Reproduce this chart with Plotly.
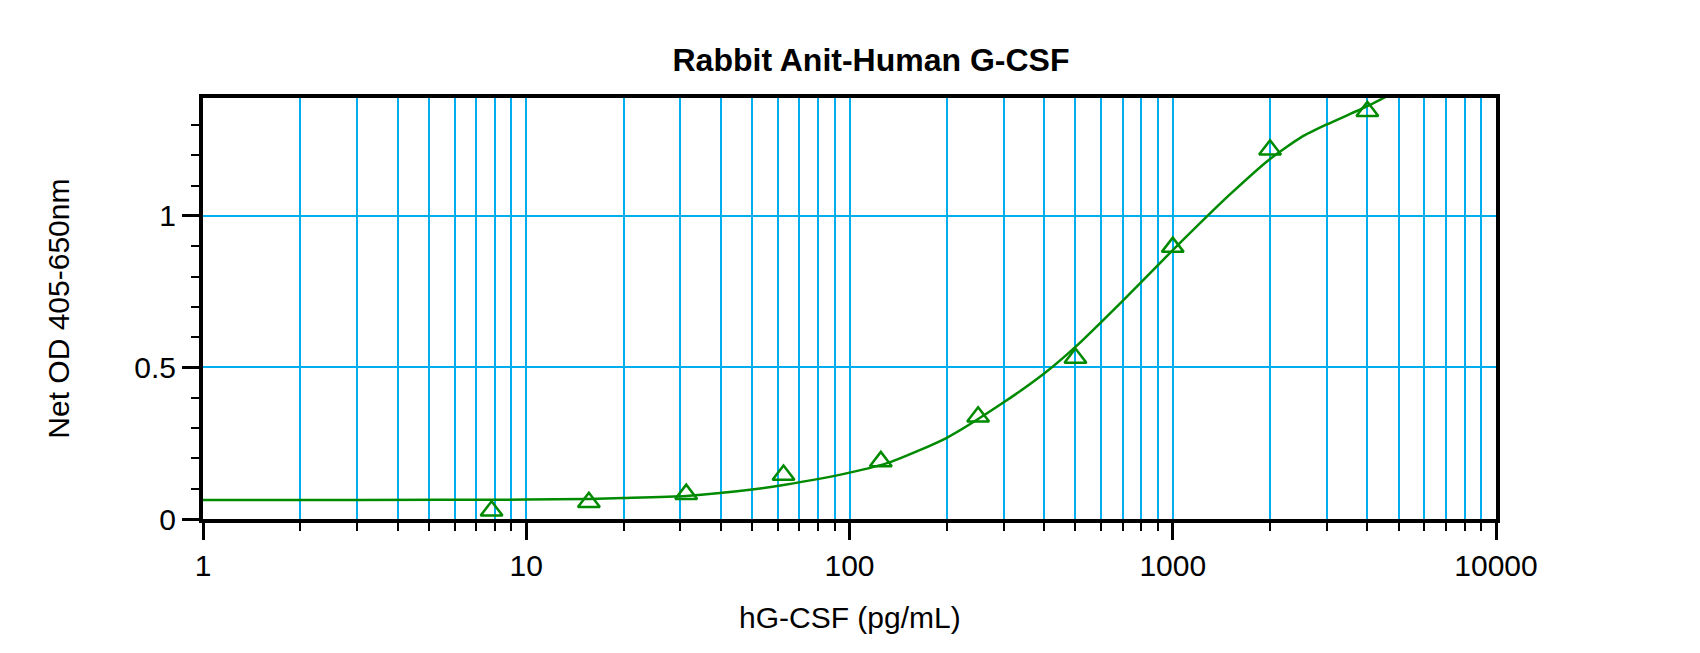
import plotly.graph_objects as go

# standards (pg/mL) and measured OD
conc = [7.8125, 15.625, 31.25, 62.5, 125, 250, 500, 1000, 2000, 4000]
od = [0.027, 0.055, 0.082, 0.145, 0.190, 0.337, 0.531, 0.897, 1.218, 1.345]

# fitted curve
fit_x = [1, 3, 10, 15.6, 20, 31.25, 50, 62.5, 100, 133, 200, 300, 400,
         500, 700, 1000, 1500, 2000, 2500, 3000, 4000, 4600]
fit_y = [0.063, 0.063, 0.064, 0.066, 0.069, 0.076, 0.097, 0.112, 0.153, 0.187,
         0.268, 0.385, 0.480, 0.568, 0.720, 0.887, 1.070, 1.188, 1.260,
         1.302, 1.362, 1.395]

x_ticks = [1, 10, 100, 1000, 10000]
x_labels = ["1", "10", "100", "1000", "10000"]
y_ticks = [0, 0.5, 1]
y_labels = ["0", "0.5", "1"]

GREEN = "#008a00"
GRID = "#00aeef"
FONT = "Liberation Sans, Arial, sans-serif"

# the page has an 8px body margin, so the figure is drawn 8px smaller
W, H = 1692, 645
OFF = 8

fig = go.Figure()
fig.add_trace(go.Scatter(
    x=fit_x, y=fit_y, mode="lines",
    line=dict(color=GREEN, width=2.5, shape="spline", smoothing=0.6),
    hoverinfo="skip", showlegend=False,
))
fig.add_trace(go.Scatter(
    x=conc, y=od, mode="markers",
    marker=dict(symbol="triangle-up-open", size=19, color=GREEN,
                line=dict(color=GREEN, width=2.5)),
    showlegend=False,
))

fig.update_layout(
    width=W, height=H,
    margin=dict(l=203 - OFF, r=204, t=98 - OFF, b=134),
    plot_bgcolor="white", paper_bgcolor="white",
    font=dict(family=FONT, size=30, color="black"),
    title=dict(text="<b>Rabbit Anit-Human G-CSF</b>", font=dict(size=32),
               x=(871 - OFF) / W, xref="container", xanchor="center",
               y=1 - (60 - OFF) / H, yref="container", yanchor="middle"),
    annotations=[
        dict(text="hG-CSF (pg/mL)", xref="paper", yref="paper",
             x=0.5, y=-0.235, xanchor="center", yanchor="middle",
             showarrow=False, font=dict(size=30)),
        dict(text="Net OD 405-650nm", xref="paper", yref="paper",
             x=-0.112, y=0.5, xanchor="center", yanchor="middle",
             textangle=-90, showarrow=False, font=dict(size=30)),
    ],
)

fig.update_xaxes(
    type="log", range=[0, 4],
    tickvals=x_ticks, ticktext=x_labels,
    ticks="outside", ticklen=17, tickwidth=2.5, tickcolor="black",
    showline=True, linewidth=4, linecolor="black", mirror=True,
    showgrid=True, gridcolor=GRID, gridwidth=1.5,
    minor=dict(dtick="D1", ticks="outside", ticklen=8, tickwidth=2,
               tickcolor="black", showgrid=True, gridcolor=GRID, gridwidth=1.5),
    zeroline=False,
)
fig.update_yaxes(
    range=[0, 1.389],
    tickvals=y_ticks, ticktext=y_labels,
    ticks="outside", ticklen=17, tickwidth=2.5, tickcolor="black",
    showline=True, linewidth=4, linecolor="black", mirror=True,
    showgrid=True, gridcolor=GRID, gridwidth=1.5,
    minor=dict(dtick=0.1, ticks="outside", ticklen=8, tickwidth=2,
               tickcolor="black", showgrid=False),
    zeroline=False,
)

fig.write_html("out.html")
